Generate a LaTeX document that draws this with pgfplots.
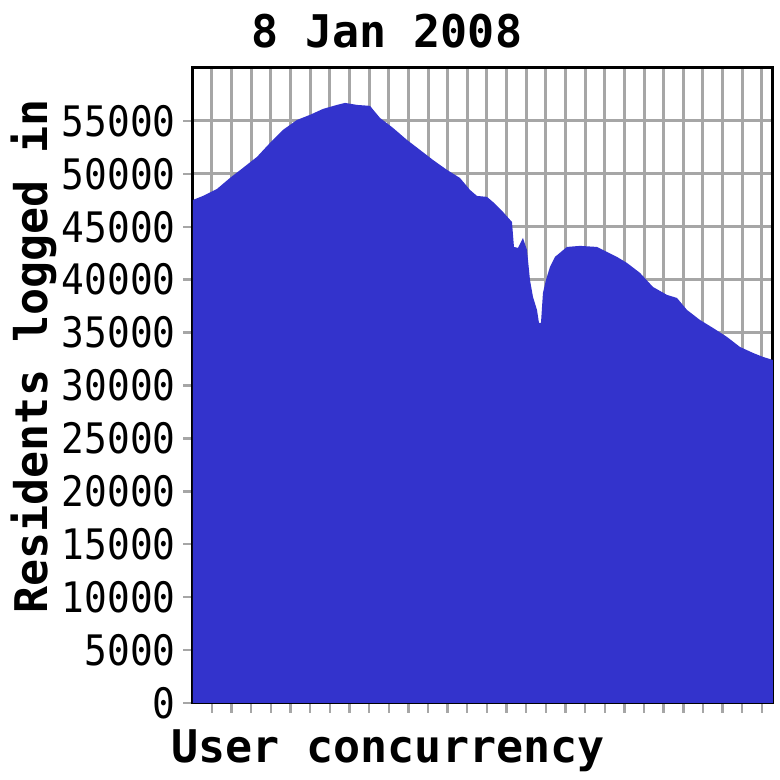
\documentclass[border=0pt]{standalone}
\usepackage{fontspec}
\setmainfont{DejaVu Sans Mono}
\newfontfamily\tickfont{DejaVu Sans Mono}[FakeStretch=0.9]
\usepackage{pgfplots}
\pgfplotsset{compat=1.18}
\definecolor{areablue}{HTML}{3333CC}
\definecolor{gridgray}{HTML}{A6A6A6}
\pgfplotsset{layers/gridunder/.define layer set={axis background,axis grid,pre main,main,axis ticks,axis lines,axis tick labels,axis descriptions,axis foreground}{}}

\begin{document}
\begin{tikzpicture}
\begin{axis}[
  set layers=gridunder,
  at={(64.33pt,25.67pt)}, anchor=south west,
  scale only axis, width=193.33pt, height=211.67pt,
  xmin=0, xmax=580, ymin=0, ymax=60000,
  xtick={19,38.64,...,570}, xticklabels={},
  ytick={0,5000,...,55000},
  xtick pos=bottom, ytick pos=left,
  scaled y ticks=false,
  /pgf/number format/assume math mode=true,
  yticklabel={\tickfont\pgfmathprintnumber[fixed,1000 sep={}]{\tick}},
  yticklabel style={font=\fontsize{14}{14}\selectfont, inner sep=0pt, xshift=-2.3pt},
  grid=major, grid style={gridgray, line width=1pt},
  tick align=outside, major tick length=3.3pt,
  tick style={gridgray, line width=0.8pt},
  axis line style={black, line width=1pt},
  title={8 Jan 2008},
  every axis title/.style={font=\fontsize{15}{15}\selectfont\bfseries, at={(0.334,1.033)}, anchor=base},
  xlabel={User concurrency}, xlabel style={font=\fontsize{15}{15}\selectfont\bfseries, at={(0.336,-0.093)}, anchor=base},
  ylabel={Residents logged in},
  ylabel style={font=\fontsize{15}{15}\selectfont\bfseries, at={(-0.25,0.546)}, anchor=base},
]
\addplot[fill=areablue, draw=none] coordinates {
(0,47530) (10,47910) (24,48570) (37,49610) (50,50560) (64,51600) (77,52920)
(90,54150) (104,55090) (117,55570) (130,56130) (144,56510) (152,56700)
(164,56510) (177,56420) (187,55280) (200,54340) (214,53200) (227,52260)
(240,51310) (254,50370) (267,49610) (277,48480) (284,47910) (294,47820)
(300,47340) (310,46400) (319,45450) (321,43090) (325,43000) (330,43940)
(334,42810) (337,39970) (340,38370) (344,37140) (346,35910) (348,35910)
(350,38750) (353,39970) (357,41200) (362,42150) (374,43090) (387,43190)
(404,43090) (414,42620) (424,42150) (434,41580) (447,40640) (460,39310)
(474,38560) (484,38270) (494,37140) (507,36190) (520,35440) (534,34590)
(547,33640) (560,33080) (570,32700) (580,32410)
} \closedcycle;
\end{axis}
\pgfresetboundingbox
\useasboundingbox (0pt,0pt) rectangle (260pt,260pt);
\end{tikzpicture}
\end{document}
